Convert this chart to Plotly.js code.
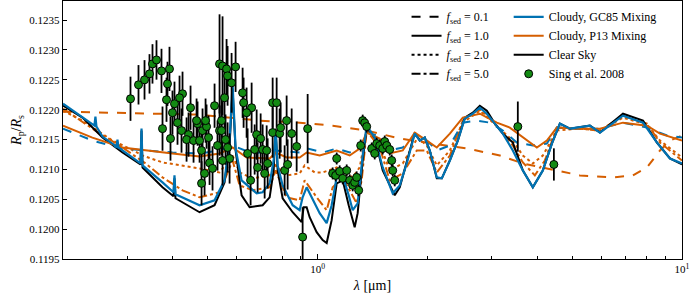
<!DOCTYPE html>
<html>
<head>
<meta charset="utf-8">
<script src="https://cdn.plot.ly/plotly-3.0.1.min.js"></script>
<style>html,body{margin:0;padding:0;background:#fff;}#chart{width:690px;height:300px;}</style>
</head>
<body>
<div id="chart"></div>
<script>
// ---- Data (wavelength in micron, Rp/Rs) ----
var clearWl = [0.2,0.2262,0.2567,0.2913,0.3264,0.3285,0.3306,0.3751,0.402,0.4046,0.4072,0.4741,0.5212,0.5551,0.5731,0.5841,0.5953,0.6184,0.6504,0.7063,0.7383,0.7572,0.7668,0.7766,0.8014,0.8539,0.9037,0.9152,0.9328,0.9506,0.9937,1.0321,1.0586,1.0925,1.1278,1.1715,1.2167,1.2635,1.2877,1.3292,1.3631,1.4342,1.5086,1.6275,1.68,1.7559,1.8473,1.9065,1.9679,2.0312,2.1232,2.1918,2.3059,2.4245,2.534,2.6666,2.787,2.9131,3.0639,3.2227,3.4329,3.657,3.8957,4.1503,4.3937,4.6218,4.9238,5.5875,5.954,6.8862,7.8155,8.537,9.2683,10.0];
var clearR = [0.122067,0.121867,0.121533,0.121283,0.121083,0.12165,0.121033,0.1207,0.12055,0.12085,0.120517,0.120283,0.1204,0.120783,0.1214,0.12235,0.121317,0.120567,0.120367,0.1204,0.120533,0.120983,0.121683,0.120983,0.120517,0.120283,0.120117,0.120367,0.120367,0.1202,0.11995,0.119817,0.119767,0.12015,0.120767,0.120817,0.1204,0.120033,0.120267,0.12115,0.1217,0.121533,0.120983,0.120567,0.1207,0.12115,0.121617,0.121483,0.121533,0.121317,0.12085,0.12085,0.12115,0.121483,0.121867,0.12195,0.122067,0.121983,0.121767,0.1216,0.12145,0.120983,0.1207,0.120983,0.121433,0.121767,0.121683,0.121733,0.121617,0.121933,0.121817,0.12145,0.121183,0.121083];

var gcF1Wl = [0.2,0.2262,0.2439,0.2455,0.2471,0.2567,0.2804,0.2822,0.284,0.2913,0.3264,0.3285,0.3306,0.3751,0.402,0.4046,0.4072,0.4741,0.5212,0.5551,0.5731,0.5841,0.5953,0.6184,0.6504,0.68,0.7063,0.7383,0.7572,0.7668,0.7766,0.8014,0.8539,0.8924,0.9094,0.9328,0.9627,1.0127,1.0586,1.0925,1.1278,1.1715,1.2167,1.2478,1.2877,1.3292,1.3631,1.4342,1.5086,1.607,1.68,1.7559,1.8473,1.9065,1.9679,2.0312,2.1232,2.1918,2.3059,2.4245,2.534,2.6666,2.787,2.9131,3.0639,3.2227,3.4329,3.657,3.8957,4.1503,4.3937,4.6218,4.9238,5.5875,5.954,6.8862,7.8155,8.537,9.2683,10.0];
var gcF1R = [0.1221,0.121867,0.121733,0.121883,0.121717,0.12155,0.121383,0.1215,0.121367,0.121317,0.1211,0.121683,0.121067,0.120783,0.120617,0.1209,0.120583,0.1204,0.120483,0.120817,0.121483,0.122433,0.12135,0.120817,0.1207,0.1206,0.120617,0.120767,0.12115,0.12165,0.121067,0.120733,0.1204,0.120317,0.120533,0.1207,0.120533,0.120267,0.1201,0.1204,0.120867,0.1209,0.120567,0.120317,0.120433,0.121233,0.121733,0.121533,0.121033,0.1206,0.120733,0.1211,0.1216,0.121483,0.121533,0.121317,0.120867,0.12085,0.12115,0.121483,0.12185,0.121933,0.122033,0.121933,0.121767,0.1216,0.121317,0.120983,0.1207,0.120983,0.121433,0.121767,0.121683,0.121733,0.121617,0.1219,0.121783,0.12145,0.121183,0.1211];

var gcF01Wl = [0.2,0.2408,0.2913,0.337,0.3995,0.4741,0.5379,0.5841,0.663,0.762,0.8924,0.9387,1.0321,1.1278,1.2244,1.3041,1.3631,1.4524,1.5769,1.7121,1.8473,1.993,2.1232,2.3059,2.5023,2.7346,2.9688,3.2227,3.5208,3.8957,4.2566,4.535,5.2455,5.954,6.8862,8.0147,9.0947,10.0];
var gcF01R = [0.121683,0.121483,0.12135,0.121317,0.121283,0.121267,0.121317,0.1214,0.121267,0.121317,0.121283,0.12135,0.121283,0.12135,0.121283,0.121367,0.121617,0.121567,0.121317,0.121367,0.121567,0.121483,0.121317,0.1214,0.121783,0.121817,0.121783,0.12165,0.12145,0.1214,0.121433,0.1217,0.121683,0.121683,0.121783,0.1217,0.121567,0.121533];

var p13F1Wl = [0.2,0.2408,0.2913,0.337,0.3995,0.4741,0.5379,0.5841,0.6382,0.7383,0.7668,0.8219,0.8924,0.9328,1.0127,1.1278,1.2244,1.3041,1.3631,1.4802,1.5769,1.7121,1.8473,1.993,2.1232,2.3059,2.5023,2.787,3.103,3.3685,3.657,3.996,4.2566,4.535,5.2455,5.954,6.8862,8.0147,8.701,10.0];
var p13F1R = [0.121733,0.121533,0.121367,0.121317,0.121267,0.121217,0.121267,0.121367,0.1212,0.121183,0.121283,0.1212,0.1212,0.121283,0.121233,0.121317,0.121233,0.12135,0.121617,0.121517,0.121267,0.121317,0.121617,0.121483,0.121367,0.1216,0.121867,0.121933,0.121783,0.1217,0.121533,0.121367,0.121483,0.1217,0.121683,0.121683,0.121783,0.121733,0.1216,0.121483];

var p13F01Wl = [0.2,0.2858,0.392,0.4741,0.5379,0.6931,0.8924,1.0995,1.3631,1.68,2.0701,2.5663,3.1623,3.657,4.2566,5.2455,6.4624,7.3349,8.0147,8.701,9.2683,10.0];
var p13F01R = [0.121967,0.12195,0.121933,0.121917,0.121883,0.121817,0.121783,0.121733,0.12165,0.121517,0.121433,0.12135,0.121233,0.1211,0.121017,0.1209,0.120867,0.1209,0.121033,0.121317,0.121483,0.121567];

var p13F2Wl = [0.2,0.2262,0.2734,0.3045,0.3306,0.3751,0.4741,0.5379,0.5841,0.6106,0.663,0.7383,0.7668,0.8219,0.8924,0.9211,0.9813,1.0321,1.1278,1.2478,1.3041,1.3631,1.4802,1.5769,1.7121,1.8825,1.993,2.1232,2.3059,2.5023,2.787,3.103,3.4329,3.657,3.8957,4.1503,4.535,5.2455,5.954,6.8862,8.0147,8.701,10.0];
var p13F2R = [0.121983,0.121817,0.121483,0.12135,0.121233,0.121117,0.121017,0.12095,0.121233,0.12095,0.12085,0.1209,0.121067,0.1209,0.120933,0.121067,0.12095,0.12095,0.121033,0.120867,0.121033,0.12165,0.121433,0.120983,0.1211,0.121533,0.1214,0.121067,0.121317,0.121783,0.121983,0.121733,0.121483,0.121233,0.1211,0.121233,0.12165,0.121683,0.12165,0.121867,0.12175,0.121483,0.1212];

var p13F5Wl = [0.2,0.2455,0.2913,0.337,0.3751,0.4257,0.4741,0.5379,0.5841,0.6106,0.663,0.7383,0.7668,0.8219,0.8924,0.9211,0.9937,1.0586,1.0995,1.1715,1.2796,1.3208,1.3631,1.4802,1.5769,1.7121,1.8707,1.993,2.1232,2.3059,2.5023,2.787,3.103,3.4329,3.657,3.9455,4.2034,4.535,5.2455,5.954,6.8862,8.0147,8.701,10.0];
var p13F5R = [0.122017,0.12165,0.121367,0.1211,0.120867,0.12065,0.120533,0.120617,0.12115,0.120733,0.12065,0.1207,0.120983,0.120533,0.120483,0.120817,0.120533,0.120317,0.1207,0.120867,0.120433,0.120817,0.12165,0.121367,0.120817,0.120933,0.121317,0.121317,0.12095,0.121233,0.121817,0.122017,0.121733,0.1214,0.121117,0.1209,0.12115,0.1217,0.121683,0.12165,0.1219,0.121767,0.12145,0.12115];

// Sing et al. 2008 observations
var obsWl = [0.3064,0.3223,0.3348,0.3455,0.3521,0.3611,0.3727,0.392,0.3871,0.3847,0.4046,0.4257,0.4177,0.4478,0.3751,0.3945,0.3995,0.4124,0.423,0.4422,0.4367,0.4564,0.4681,0.4652,0.4831,0.4741,0.4955,0.5018,0.5212,0.4924,0.4801,0.505,0.5146,0.4893,0.4801,0.5379,0.5482,0.5379,0.5311,0.5953,0.5623,0.5659,0.5804,0.5551,0.6223,0.6262,0.6588,0.6382,0.5447,0.5447,0.5586,0.5659,0.5731,0.5482,0.6423,0.6715,0.68,0.6974,0.7063,0.7245,0.6843,0.729,0.7153,0.6546,0.7524,0.7717,0.7524,0.7864,0.7914,0.8219,0.8485,0.8757,0.8116,0.8271,0.9387,0.9094,1.0995,1.1278,1.1206,1.1493,1.1715,1.2014,1.2244,1.2478,1.2635,1.2796,1.2959,1.3124,1.3292,1.346,1.3631,1.4072,1.4342,1.4524,1.4802,1.5086,1.5278,1.5473,1.5769,1.5965,1.607,1.6275,3.543,4.4496];
var obsR = [0.122183,0.122417,0.1225,0.1226,0.122767,0.122833,0.12265,0.122683,0.122433,0.122167,0.1221,0.122267,0.1222,0.122033,0.121683,0.121517,0.12195,0.121783,0.12165,0.121583,0.1215,0.121483,0.121767,0.121817,0.12165,0.121483,0.121717,0.121533,0.122067,0.121817,0.121317,0.12111,0.121017,0.120933,0.120767,0.122767,0.122733,0.12165,0.1214,0.122717,0.122683,0.122567,0.12245,0.1222,0.122283,0.122117,0.122033,0.12195,0.121817,0.12165,0.1215,0.121367,0.121183,0.12115,0.121267,0.121333,0.121583,0.121517,0.121333,0.121317,0.121033,0.1211,0.120933,0.120817,0.122117,0.122117,0.121617,0.1216,0.1217,0.121817,0.1216,0.121383,0.120983,0.121083,0.121683,0.119867,0.120933,0.121183,0.1209,0.120967,0.12085,0.120983,0.120817,0.120733,0.120783,0.120867,0.12065,0.1214,0.121817,0.12178,0.121717,0.12135,0.121267,0.121433,0.1214,0.12135,0.121467,0.1214,0.121333,0.12115,0.120983,0.120817,0.121717,0.121083];
var obsErr = [0.00037,0.00033,0.00033,0.00033,0.00033,0.00033,0.00037,0.00037,0.00037,0.00037,0.00037,0.00037,0.00037,0.00037,0.00037,0.00037,0.00037,0.00037,0.00037,0.00037,0.00037,0.00037,0.00037,0.00037,0.00037,0.00037,0.00037,0.00037,0.00037,0.00037,0.00037,0.00037,0.00037,0.00037,0.00037,0.00083,0.00083,0.00042,0.00042,0.00042,0.0005,0.0005,0.0005,0.0005,0.00042,0.00042,0.00042,0.00042,0.00042,0.00042,0.00042,0.00042,0.00042,0.00042,0.00042,0.00042,0.00042,0.00042,0.00042,0.00042,0.00042,0.00042,0.00042,0.00042,0.00042,0.00042,0.00042,0.00042,0.00042,0.00042,0.00042,0.00042,0.00042,0.00042,0.00058,0.0005,0.0001,0.0001,0.0001,0.0001,0.0001,0.0001,0.0001,0.0001,0.0001,0.0001,0.0001,0.0001,0.0001,0.0001,0.0001,0.0001,0.0001,0.0001,0.0001,0.0001,0.0001,0.0001,0.0001,0.0001,0.0001,0.0001,0.00042,0.00027];

var yTicks = [0.1195,0.12,0.1205,0.121,0.1215,0.122,0.1225,0.123,0.1235];
var xMajor = [1,10];
var xMajorText = ['10<sup>0</sup>','10<sup>1</sup>'];
var xMinor = [0.2,0.3,0.4,0.5,0.6,0.7,0.8,0.9,2,3,4,5,6,7,8,9];
var fsedLabels = ['0.1','1.0','2.0','5.0'];

var BLUE = '#0072B2', ORANGE = '#D55E00';
var LW = 2;

function line(x, y, color, dash, width, extra) {
  var t = {x: x, y: y, type: 'scatter', mode: 'lines', showlegend: false,
           line: {color: color, dash: dash, width: width}};
  for (var k in (extra || {})) t[k] = extra[k];
  return t;
}

var traces = [];
// legend-only fsed style entries
var dashes = ['dash','solid','dot','dashdot'];
for (var i = 0; i < 4; i++) {
  traces.push({x: [null], y: [null], type: 'scatter', mode: 'lines', legend: 'legend',
    name: '<i>f</i><sub>sed</sub> = ' + fsedLabels[i],
    showlegend: true, line: {color: 'black', dash: dashes[i], width: LW}});
}
traces.push(line(p13F01Wl, p13F01R, ORANGE, 'dash', LW));
traces.push(line(p13F2Wl, p13F2R, ORANGE, 'dot', LW));
traces.push(line(p13F5Wl, p13F5R, ORANGE, 'dashdot', LW));
traces.push(line(clearWl, clearR, 'black', 'solid', LW,
  {showlegend: true, name: 'Clear Sky', legend: 'legend2', legendrank: 3}));
traces.push(line(gcF01Wl, gcF01R, BLUE, 'dash', LW));
traces.push(line(p13F1Wl, p13F1R, ORANGE, 'solid', LW,
  {showlegend: true, name: 'Cloudy, P13 Mixing', legend: 'legend2', legendrank: 2}));
traces.push(line(gcF1Wl, gcF1R, BLUE, 'solid', 2.2,
  {showlegend: true, name: 'Cloudy, GC85 Mixing', legend: 'legend2', legendrank: 1}));
traces.push({x: obsWl, y: obsR, type: 'scatter', mode: 'markers', name: 'Sing et al. 2008',
  legend: 'legend2', legendrank: 4, showlegend: true,
  marker: {color: '#138a13', size: 8, line: {color: 'black', width: 1}},
  error_y: {type: 'data', array: obsErr, visible: true, color: 'black', thickness: 1.8, width: 0}});

var serif = 'Liberation Serif, Times New Roman, Times, serif';
var layout = {
  width: 690, height: 300,
  margin: {l: 63, r: 8, t: 1, b: 41},
  paper_bgcolor: 'white', plot_bgcolor: 'white',
  font: {family: serif, size: 12, color: 'black'},
  xaxis: {type: 'log', range: [Math.log10(0.2), 1], showgrid: false, zeroline: false,
    showline: true, linecolor: 'black', linewidth: 1.2, mirror: true,
    tickmode: 'array', tickvals: xMajor, ticktext: xMajorText, ticklabeloverflow: 'allow',
    ticks: 'inside', ticklen: 5, tickcolor: 'black', tickfont: {family: serif, size: 11},
    minor: {tickmode: 'array', tickvals: xMinor, ticks: 'inside', ticklen: 3, tickcolor: 'black', showgrid: false},
    title: {text: '<i>λ</i> [μm]', font: {family: serif, size: 14}, standoff: 5}},
  yaxis: {range: [0.1195, 0.12382], showgrid: false, zeroline: false,
    showline: true, linecolor: 'black', linewidth: 1.2, mirror: true,
    tickmode: 'array', tickvals: yTicks, tickformat: '.4f',
    ticks: 'inside', ticklen: 4, tickcolor: 'black', tickfont: {family: serif, size: 11},
    title: {text: '<i>R</i><sub>p</sub>/<i>R</i><sub>s</sub>', font: {family: serif, size: 14}, standoff: 4}},
  legend: {x: 0.555, y: 0.995, xanchor: 'left', yanchor: 'top', bgcolor: 'rgba(0,0,0,0)',
    font: {family: serif, size: 12}, tracegroupgap: 0, itemwidth: 30},
  legend2: {x: 0.72, y: 0.995, xanchor: 'left', yanchor: 'top', bgcolor: 'rgba(0,0,0,0)',
    font: {family: serif, size: 12}, tracegroupgap: 0, itemwidth: 30, traceorder: 'normal'},
  showlegend: true
};

Plotly.newPlot('chart', traces, layout, {staticPlot: true, displayModeBar: false});
</script>
</body>
</html>
